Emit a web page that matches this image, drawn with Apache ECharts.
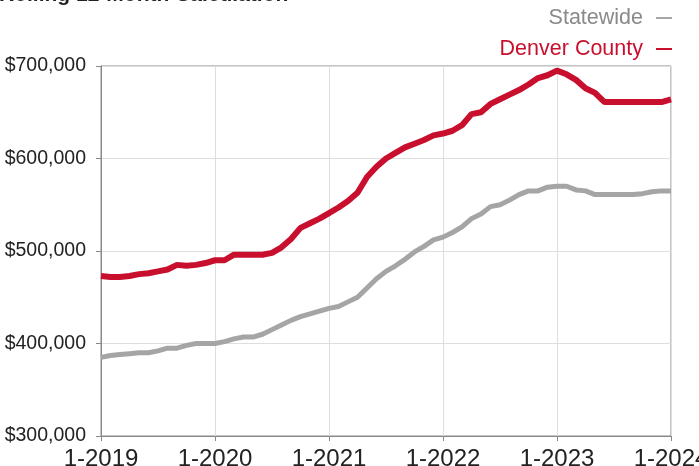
<!DOCTYPE html>
<html>
<head>
<meta charset="utf-8">
<script src="https://cdn.jsdelivr.net/npm/echarts@6/dist/echarts.min.js"></script>
<style>
  html, body { margin: 0; padding: 0; background: #fff; }
  #main { width: 699px; height: 466px; }
</style>
</head>
<body>
<div id="main"></div>
<script>
// months 1-2019 .. 1-2024
var months = [];
for (var y = 2019; y <= 2024; y++) {
    for (var m = 1; m <= 12; m++) {
        if (y === 2024 && m > 1) break;
        months.push(m + '-' + y);
    }
}

var statewide = [
    385000, 387000, 388000, 389000, 390000, 390000, 392000, 395000, 395000, 398000, 400000, 400000,
    400000, 402000, 405000, 407000, 407000, 410000, 415000, 420000, 425000, 429000, 432000, 435000,
    438000, 440000, 445000, 450000, 460000, 470000, 478000, 484000, 491000, 499000, 505000, 512000,
    515000, 520000, 526000, 535000, 540000, 548000, 550000, 555000, 561000, 565000, 565000, 569000,
    570000, 570000, 566000, 565000, 561000, 561000, 561000, 561000, 561000, 562000, 564000, 565000,
    565000
];

var denver = [
    473000, 472000, 472000, 473000, 475000, 476000, 478000, 480000, 485000, 484000, 485000, 487000,
    490000, 490000, 496000, 496000, 496000, 496000, 498000, 504000, 513000, 525000, 530000, 535000,
    541000, 547000, 554000, 563000, 580000, 591000, 600000, 606000, 612000, 616000, 620000, 625000,
    627000, 630000, 636000, 648000, 650000, 659000, 664000, 669000, 674000, 680000, 687000, 690000,
    695000, 691000, 685000, 676000, 671000, 661000, 661000, 661000, 661000, 661000, 661000, 661000,
    664000
];

var grayColor = '#a5a5a5';
var redColor = '#c8102e';
var fontName = 'Liberation Sans';

var chart = echarts.init(document.getElementById('main'));

var option = {
    animation: false,
    backgroundColor: '#fff',
    title: {
        text: 'Rolling 12-Month Calculation',
        left: -1,
        top: -15,
        padding: 0,
        textStyle: { fontFamily: fontName, fontSize: 21, fontWeight: 'bold', color: '#222' }
    },
    legend: {
        orient: 'vertical',
        right: 27,
        top: 7,
        padding: 0,
        align: 'right',
        icon: 'rect',
        itemWidth: 16,
        itemHeight: 2,
        itemGap: 9,
        textStyle: { fontFamily: fontName, fontSize: 21.5, padding: [0, 8, 0, 0] },
        data: [
            { name: 'Statewide', textStyle: { color: '#8a8a8a' } },
            { name: 'Denver County', textStyle: { color: redColor } }
        ]
    },
    grid: {
        left: 101,
        right: 28,
        top: 66,
        bottom: 30,
        outerBoundsMode: 'none',
        containLabel: false,
        show: true,
        borderColor: '#888',
        borderWidth: 1
    },
    xAxis: {
        type: 'category',
        data: months,
        boundaryGap: false,
        axisLine: { lineStyle: { color: '#888' } },
        axisTick: { interval: 11, length: 5, lineStyle: { color: '#888' } },
        axisLabel: { interval: 11, color: '#222', fontFamily: fontName, fontSize: 24, margin: 11 },
        splitLine: { show: true, interval: 11, lineStyle: { color: '#dedede' } }
    },
    yAxis: {
        type: 'value',
        min: 300000,
        max: 700000,
        interval: 100000,
        axisLine: { show: true, lineStyle: { color: '#888' } },
        axisTick: { show: true, length: 5, lineStyle: { color: '#888' } },
        axisLabel: {
            color: '#222', fontFamily: fontName, fontSize: 19.5, margin: 15,
            formatter: function (v) { return '$' + v.toLocaleString('en-US'); }
        },
        splitLine: { lineStyle: { color: '#dedede' } }
    },
    series: [
        {
            name: 'Statewide',
            type: 'line',
            data: statewide,
            symbol: 'none',
            color: grayColor,
            lineStyle: { width: 5, color: grayColor }
        },
        {
            name: 'Denver County',
            type: 'line',
            data: denver,
            symbol: 'none',
            color: redColor,
            lineStyle: { width: 6, color: redColor }
        }
    ]
};

chart.setOption(option);
</script>
</body>
</html>
